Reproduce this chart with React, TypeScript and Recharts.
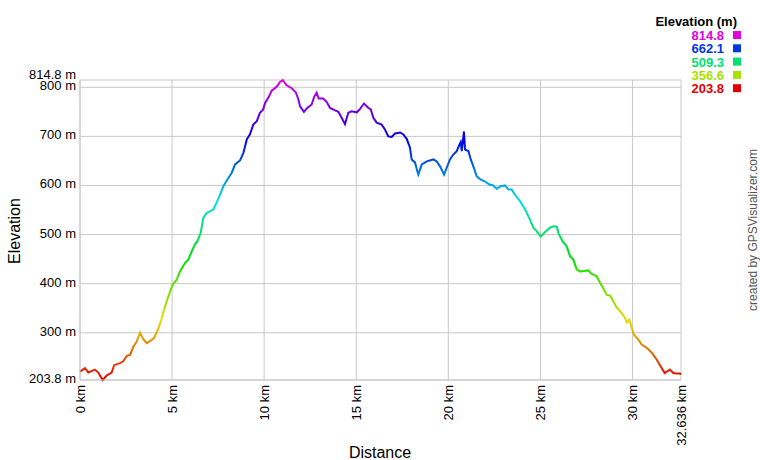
import React from "react";
import { CartesianGrid, Line, LineChart, XAxis, YAxis } from "recharts";

// distance along the track, km
const distanceKm = [
  0, 0.27, 0.45, 0.81, 0.99, 1.23, 1.45, 1.72, 1.85, 2.17, 2.35, 2.54, 2.72, 2.89, 3.08, 3.26,
  3.44, 3.62, 3.84, 4.02, 4.25, 4.44, 4.62, 4.8, 5.03, 5.25, 5.43, 5.7, 5.88, 6.07, 6.24, 6.37,
  6.55, 6.7, 6.88, 7.24, 7.42, 7.6, 7.78, 7.97, 8.24, 8.42, 8.69, 8.87, 9.06, 9.23, 9.41, 9.6,
  9.77, 9.95, 10.05, 10.23, 10.41, 10.68, 10.86, 11.01, 11.22, 11.5, 11.73, 11.86, 11.95, 12.16,
  12.34, 12.58, 12.71, 12.85, 12.96, 13.21, 13.4, 13.58, 13.85, 14.03, 14.21, 14.39, 14.57, 14.75,
  15.03, 15.21, 15.42, 15.66, 15.79, 15.93, 16.11, 16.38, 16.56, 16.74, 16.93, 17.11, 17.38, 17.56,
  17.74, 17.92, 18.01, 18.19, 18.37, 18.56, 18.83, 19.19, 19.37, 19.55, 19.77, 19.91, 20.09, 20.27,
  20.46, 20.58, 20.67, 20.73, 20.85, 20.91, 21.09, 21.22, 21.36, 21.54, 21.72, 21.99, 22.23, 22.44,
  22.63, 22.81, 23.08, 23.26, 23.44, 23.62, 23.89, 24.17, 24.44, 24.62, 24.8, 25.02, 25.25, 25.52,
  25.7, 25.89, 25.98, 26.21, 26.43, 26.61, 26.79, 26.97, 27.15, 27.6, 27.79, 28.06, 28.24, 28.42,
  28.6, 28.78, 28.96, 29.15, 29.32, 29.42, 29.6, 29.69, 29.83, 29.96, 30.08, 30.32, 30.5, 30.79,
  31.06, 31.32, 31.59, 31.75, 32.03, 32.22, 32.4, 32.58, 32.636,
];

// elevation, m
const elevationM = [
  221, 228, 219, 225, 219, 203.8, 213, 219, 234, 238, 242, 253, 255, 271, 282, 300,
  287, 279, 284, 289, 308, 330, 354, 374, 398, 408, 425, 442, 449, 466, 480, 486,
  503, 534, 544, 551, 565, 581, 598, 610, 626, 643, 651, 666, 694, 704, 724, 731,
  748, 755, 768, 779, 793, 801, 811, 814.8, 804, 798, 789, 775, 761, 750,
  758, 765, 780, 789, 777, 777, 770, 758, 753, 750, 738, 725, 748, 751,
  749, 756, 767, 758, 755, 738, 728, 724, 714, 700, 699, 706, 708, 704,
  695, 677, 653, 647, 622, 643, 649, 653, 649, 639, 622, 636, 653, 663,
  670, 681, 688, 670, 710, 673, 670, 653, 639, 619, 613, 608, 602, 600,
  593, 598, 600, 592, 592, 581, 568, 551, 530, 514, 507, 496, 505, 514,
  517, 516, 503, 486, 476, 456, 449, 429, 425, 427, 420, 415, 402, 390,
  377, 376, 364, 351, 344, 340, 330, 321, 327, 310, 296, 286, 276, 269,
  259, 245, 228, 218, 225, 218, 217, 217, 215,
];

const xTicks = [0, 5, 10, 15, 20, 25, 30, 32.636];
const yTicks = [203.8, 300, 400, 500, 600, 700, 800, 814.8];
const legendValues = ["814.8", "662.1", "509.3", "356.6", "203.8"];
const legendColors = ["#e000e0", "#0038e0", "#00e070", "#a8e000", "#e00000"];

const data = distanceKm.map((d, i) => ({ d, ele: elevationM[i] }));

const FONT = "'Liberation Sans', Arial, sans-serif";

// gradient runs bottom (offset 0, red) to top (offset 1, magenta)
const gradientStops = Array.from({ length: 21 }, (_, i) => {
  const t = i / 20;
  return { offset: t, color: `hsl(${Math.round(300 * t)}, 100%, 44%)` };
});

function YTick({ x, y, payload }: any) {
  const v = payload.value;
  return (
    <text x={x} y={y} dy={v === 814.8 ? -1 : 3} textAnchor="end" fontSize={13} fontFamily={FONT} fill="#000">
      {`${v} m`}
    </text>
  );
}

function XTick({ x, y, payload }: any) {
  return (
    <text
      transform={`translate(${x},${y}) rotate(-90)`}
      dy="0.35em"
      textAnchor="end"
      fontSize={13}
      fontFamily={FONT}
      fill="#000"
    >
      {`${payload.value} km`}
    </text>
  );
}

export default function App() {
  return (
    <div style={{ position: "absolute", left: 0, top: 0, width: 760, height: 460, background: "#fff" }}>
      <LineChart width={760} height={460} data={data} margin={{ top: 80, right: 79, left: 0, bottom: 0 }}>
        <defs>
          <linearGradient id="eleGrad" x1="0" y1="1" x2="0" y2="0">
            {gradientStops.map((s) => (
              <stop key={s.offset} offset={s.offset} stopColor={s.color} />
            ))}
          </linearGradient>
        </defs>
        <CartesianGrid stroke="#c8c8c8" />
        <XAxis
          dataKey="d"
          type="number"
          domain={[0, 32.636]}
          ticks={xTicks}
          interval={0}
          height={80}
          tickLine={false}
          tickSize={5}
          tickMargin={0}
          axisLine={{ stroke: "#c8c8c8" }}
          tick={<XTick />}
        />
        <YAxis
          type="number"
          domain={[203.8, 814.8]}
          ticks={yTicks}
          interval={0}
          width={80}
          tickLine={false}
          tickSize={4}
          tickMargin={0}
          axisLine={{ stroke: "#c8c8c8" }}
          tick={<YTick />}
        />
        <Line
          dataKey="ele"
          type="linear"
          stroke="url(#eleGrad)"
          strokeWidth={2}
          dot={false}
          isAnimationActive={false}
        />
      </LineChart>
      <svg
        width={760}
        height={460}
        style={{ position: "absolute", left: 0, top: 0, pointerEvents: "none" }}
        fontFamily={FONT}
      >
        <text transform="translate(20,231) rotate(-90)" textAnchor="middle" fontSize={16} fill="#000">
          Elevation
        </text>
        <text x={380} y={458} textAnchor="middle" fontSize={16} fill="#000">
          Distance
        </text>
        <text transform="translate(757,230) rotate(-90)" textAnchor="middle" fontSize={12} fill="#555">
          created by GPSVisualizer.com
        </text>
        <text x={737} y={26} textAnchor="end" fontSize={13} fontWeight="bold" fill="#000">
          Elevation (m)
        </text>
        {legendValues.map((v, i) => (
          <g key={v}>
            <text x={724} y={40 + i * 13.3} textAnchor="end" fontSize={13} fontWeight="bold" fill={legendColors[i]}>
              {v}
            </text>
            <rect x={733} y={31 + i * 13.3} width={8} height={8} fill={legendColors[i]} />
          </g>
        ))}
      </svg>
    </div>
  );
}
